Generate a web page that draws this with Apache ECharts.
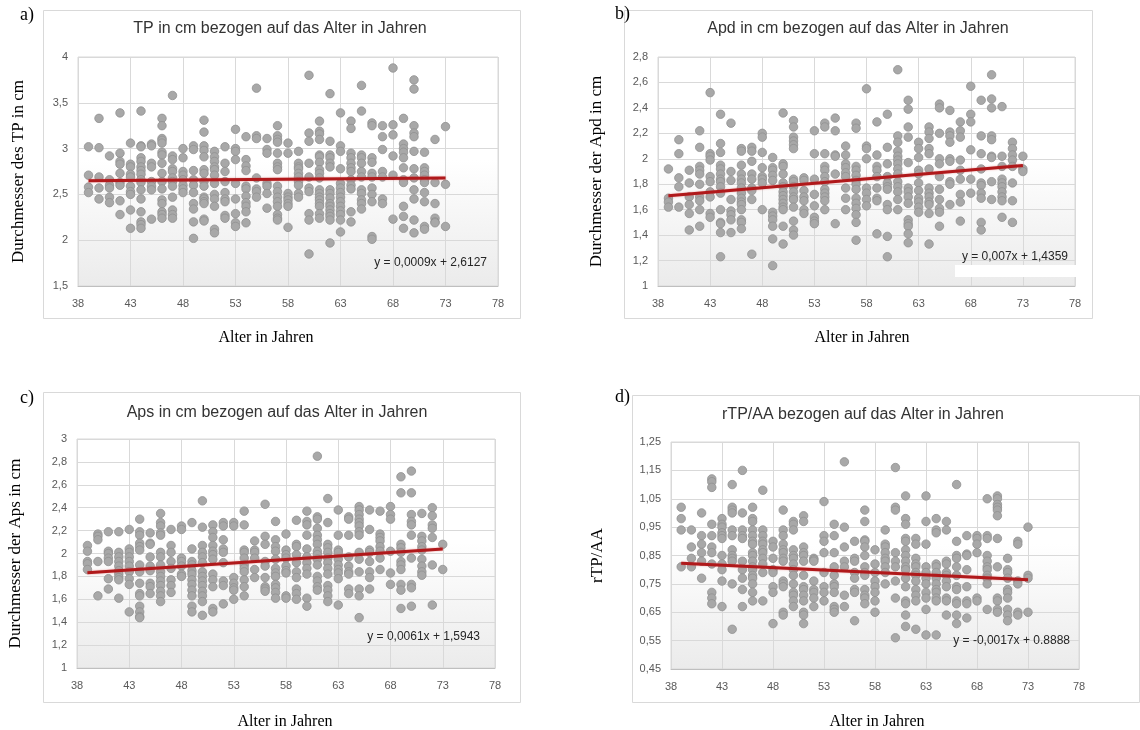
<!DOCTYPE html>
<html>
<head>
<meta charset="utf-8">
<script src="https://cdn.jsdelivr.net/npm/echarts@6/dist/echarts.min.js"></script>
<style>
  html, body { margin: 0; padding: 0; background: #fff; }
  #main { width: 1140px; height: 730px; }
</style>
</head>
<body>
<div id="main"></div>
<script>
// Alter (x), eine Spalte pro Jahr
var ages = [39,40,41,42,43,44,45,46,47,48,49,50,51,52,53,54,55,56,57,58,59,60,61,62,63,64,65,66,67,68,69,70,71,72,73];

// a) TP in cm
var tpValues = [
  [3.02,2.71,2.58,2.52],
  [3.33,3.01,2.69,2.57,2.45],
  [2.92,2.66,2.60,2.57,2.47,2.41],
  [3.39,2.95,2.86,2.83,2.73,2.63,2.60,2.43,2.28],
  [3.06,2.83,2.80,2.72,2.69,2.59,2.53,2.50,2.33,2.13],
  [3.41,3.03,3.02,2.90,2.86,2.80,2.76,2.72,2.66,2.63,2.55,2.45,2.31,2.20,2.17,2.13],
  [3.05,3.03,2.84,2.80,2.64,2.59,2.55,2.23],
  [3.33,3.25,3.11,3.09,3.06,2.96,2.93,2.84,2.73,2.64,2.56,2.44,2.40,2.31,2.28,2.24],
  [3.58,2.92,2.88,2.78,2.75,2.68,2.64,2.59,2.47,2.33,2.28,2.24],
  [3.00,2.90,2.75,2.71,2.66,2.60,2.56,2.52],
  [3.03,2.99,2.76,2.66,2.60,2.52,2.40,2.34,2.20,2.02],
  [3.31,3.18,3.03,2.98,2.91,2.77,2.73,2.64,2.59,2.47,2.45,2.42,2.40,2.23,2.21],
  [2.97,2.91,2.86,2.80,2.77,2.71,2.62,2.50,2.45,2.37,2.12,2.08],
  [3.02,2.84,2.75,2.64,2.52,2.45,2.42,2.27,2.24],
  [3.21,3.00,2.97,2.88,2.62,2.45,2.29,2.19,2.15],
  [3.13,2.88,2.81,2.76,2.59,2.56,2.48,2.41,2.37,2.31,2.19],
  [3.66,3.14,3.11,2.68,2.56,2.53,2.47],
  [3.11,2.99,2.95,2.62,2.59,2.51,2.35],
  [3.25,3.14,3.10,3.07,2.95,2.84,2.80,2.77,2.59,2.53,2.47,2.42,2.37,2.28,2.24,2.22],
  [3.06,2.95,2.51,2.47,2.44,2.40,2.37,2.14],
  [2.97,2.84,2.80,2.78,2.73,2.69,2.64,2.60,2.51,2.47],
  [3.80,3.17,3.08,2.84,2.69,2.57,2.53,2.29,2.22,1.85],
  [3.30,3.19,3.16,3.10,2.93,2.91,2.85,2.77,2.73,2.68,2.55,2.51,2.47,2.44,2.40,2.37,2.29,2.24],
  [3.60,3.08,2.93,2.90,2.84,2.80,2.55,2.51,2.46,2.40,2.37,2.33,2.29,2.26,2.22,1.97],
  [3.39,3.03,2.97,2.78,2.62,2.57,2.52,2.47,2.42,2.37,2.32,2.28,2.22,2.09],
  [3.30,3.22,2.95,2.90,2.84,2.79,2.75,2.66,2.60,2.56,2.31,2.20],
  [3.69,3.41,2.93,2.90,2.84,2.75,2.69,2.55,2.51,2.44,2.40,2.34],
  [3.28,3.25,2.90,2.85,2.73,2.69,2.57,2.50,2.42,2.04,2.01],
  [3.25,3.13,2.99,2.75,2.69,2.45,2.40],
  [3.88,3.26,3.15,2.92,2.71,2.23],
  [3.33,3.05,3.00,2.96,2.90,2.79,2.66,2.63,2.37,2.26,2.13],
  [3.75,3.65,3.25,3.17,3.13,2.97,2.78,2.68,2.55,2.45,2.22,2.08],
  [2.96,2.79,2.75,2.71,2.66,2.63,2.52,2.42,2.15,2.12],
  [3.10,2.63,2.40,2.24,2.20,2.19],
  [3.24,2.61,2.15]
];

// b) Apd in cm
var apdValues = [
  [1.92,1.69,1.66,1.62],
  [2.15,2.04,1.85,1.78,1.62],
  [1.91,1.81,1.70,1.64,1.57,1.44],
  [2.22,2.09,1.94,1.91,1.88,1.80,1.70,1.67,1.60,1.47],
  [2.52,2.04,2.02,1.99,1.86,1.82,1.74,1.70,1.57,1.54],
  [2.35,2.12,2.05,1.95,1.92,1.88,1.84,1.82,1.78,1.73,1.60,1.50,1.49,1.42,1.23],
  [2.28,1.90,1.83,1.68,1.59,1.56,1.52,1.42],
  [2.08,2.06,1.95,1.88,1.84,1.81,1.77,1.73,1.69,1.66,1.64,1.60,1.52,1.50,1.45],
  [2.09,2.06,1.98,1.88,1.84,1.77,1.75,1.68,1.25],
  [2.20,2.17,2.05,1.93,1.86,1.84,1.81,1.60],
  [2.01,1.93,1.91,1.87,1.83,1.58,1.55,1.52,1.47,1.37,1.16],
  [2.36,1.96,1.94,1.88,1.81,1.78,1.74,1.71,1.68,1.65,1.62,1.60,1.47,1.33],
  [2.30,2.25,2.17,2.14,2.11,2.08,1.84,1.82,1.78,1.74,1.70,1.68,1.62,1.51,1.44,1.40],
  [1.85,1.83,1.75,1.70,1.67,1.60,1.57],
  [2.22,2.04,1.84,1.72,1.63,1.54,1.51,1.49],
  [2.28,2.25,2.04,1.94,1.91,1.86,1.82,1.76,1.73,1.70,1.67,1.60],
  [2.32,2.22,2.03,2.02,1.88,1.49],
  [2.10,2.03,1.96,1.93,1.89,1.86,1.77,1.69,1.60],
  [2.28,2.24,1.94,1.91,1.87,1.83,1.80,1.76,1.69,1.65,1.61,1.56,1.50,1.36],
  [2.55,2.10,2.08,2.00,1.77,1.73,1.68,1.63],
  [2.29,2.03,1.94,1.91,1.86,1.77,1.69,1.67,1.41],
  [2.35,2.09,1.96,1.86,1.81,1.78,1.76,1.64,1.60,1.39,1.23],
  [2.70,2.18,2.13,2.06,2.02,1.99,1.96,1.92,1.88,1.82,1.78,1.74,1.68,1.60],
  [2.46,2.39,2.25,2.17,1.97,1.77,1.74,1.70,1.65,1.52,1.49,1.47,1.41,1.34],
  [2.13,2.08,2.01,1.91,1.88,1.81,1.75,1.69,1.66,1.62,1.58],
  [2.25,2.21,2.16,2.08,2.04,1.92,1.77,1.73,1.70,1.66,1.64,1.57,1.33],
  [2.43,2.40,2.20,2.00,1.96,1.86,1.76,1.68,1.61,1.58,1.47],
  [2.38,2.21,2.18,2.13,2.00,1.98,1.82,1.80,1.64],
  [2.29,2.22,2.17,1.99,1.91,1.84,1.72,1.66,1.51],
  [2.57,2.35,2.29,2.07,1.84,1.73],
  [2.46,2.18,2.04,1.92,1.81,1.79,1.73,1.69,1.50,1.44],
  [2.66,2.47,2.40,2.18,2.15,2.02,2.01,1.82,1.68],
  [2.41,2.02,1.94,1.84,1.81,1.78,1.74,1.70,1.67,1.54],
  [2.13,2.08,2.03,1.99,1.94,1.81,1.67,1.50],
  [2.02,1.92,1.90]
];

// c) Aps in cm
var apsValues = [
  [2.07,2.02,1.93,1.91,1.86],
  [2.17,2.15,2.12,1.93,1.63],
  [2.19,2.02,2.00,1.96,1.93,1.78,1.69],
  [2.19,2.01,1.97,1.93,1.89,1.85,1.82,1.79,1.77,1.61],
  [2.21,2.04,2.01,1.97,1.93,1.89,1.84,1.78,1.73,1.49],
  [2.30,2.19,2.16,2.09,2.06,2.03,1.90,1.84,1.74,1.65,1.63,1.54,1.49,1.45,1.44],
  [2.18,2.09,2.08,1.97,1.89,1.85,1.74,1.71,1.65],
  [2.35,2.27,2.24,2.18,2.16,2.01,1.97,1.90,1.84,1.80,1.76,1.72,1.67,1.63,1.58],
  [2.21,2.07,2.01,1.93,1.87,1.77,1.72,1.66],
  [2.24,2.21,1.96,1.93,1.89,1.82,1.80],
  [2.27,2.04,1.93,1.90,1.85,1.82,1.77,1.73,1.68,1.63,1.54,1.49],
  [2.46,2.23,2.07,2.01,1.97,1.92,1.84,1.80,1.76,1.72,1.67,1.63,1.58,1.46],
  [2.25,2.19,2.14,2.07,2.02,1.99,1.95,1.82,1.77,1.71,1.52,1.49],
  [2.27,2.24,2.12,2.04,2.01,1.92,1.76,1.72,1.56],
  [2.27,2.24,1.79,1.74,1.70,1.68,1.60],
  [2.37,2.25,2.03,2.01,1.96,1.90,1.87,1.84,1.77,1.71,1.63],
  [2.11,2.03,2.01,1.96,1.86,1.79],
  [2.43,2.15,2.08,1.93,1.89,1.79,1.71,1.69,1.67],
  [2.28,2.12,2.06,2.02,1.95,1.87,1.83,1.80,1.73,1.70,1.66,1.61],
  [2.17,2.03,1.99,1.96,1.89,1.85,1.83,1.63,1.61],
  [2.29,2.08,2.06,1.99,1.92,1.84,1.79,1.69,1.65,1.60],
  [2.37,2.28,2.25,2.16,2.04,1.97,1.92,1.87,1.82,1.61,1.54],
  [2.85,2.32,2.30,2.22,2.16,2.12,2.08,2.02,1.99,1.95,1.90,1.80,1.76,1.71,1.68],
  [2.48,2.27,2.08,2.05,2.01,1.96,1.92,1.87,1.82,1.72,1.68,1.63,1.58],
  [2.38,2.16,2.03,2.01,1.95,1.90,1.86,1.83,1.78,1.55],
  [2.32,2.30,2.16,1.97,1.89,1.84,1.82,1.69,1.65],
  [2.41,2.38,2.34,2.30,2.27,2.24,2.19,2.16,2.01,1.95,1.84,1.69,1.63,1.44],
  [2.38,2.21,2.03,2.01,1.93,1.84,1.79,1.69],
  [2.37,2.17,2.14,2.11,2.06,2.02,1.96,1.86],
  [2.41,2.34,2.30,2.02,1.83,1.73],
  [2.67,2.53,2.08,2.05,2.01,1.93,1.90,1.86,1.73,1.68,1.52],
  [2.72,2.53,2.34,2.28,2.25,2.16,1.96,1.73,1.70,1.54],
  [2.35,2.15,2.11,2.06,2.03,1.95,1.89,1.84,1.81],
  [2.40,2.33,2.25,2.22,2.14,1.90,1.55],
  [2.08,1.86]
];

// d) rTP/AA
var rtpValues = [
  [1.02,0.98,0.94,0.81],
  [0.94,0.88,0.84,0.81],
  [1.00,0.92,0.89,0.86,0.83,0.77],
  [1.12,1.11,1.09,0.96,0.92,0.88,0.86,0.82,0.72,0.70,0.68],
  [0.98,0.96,0.95,0.93,0.92,0.91,0.85,0.82,0.80,0.76,0.67],
  [1.10,1.02,1.01,1.00,0.94,0.92,0.87,0.85,0.84,0.83,0.75,0.59],
  [1.15,1.00,0.94,0.92,0.91,0.83,0.80,0.77,0.73,0.67],
  [1.02,0.98,0.97,0.94,0.92,0.90,0.89,0.86,0.85,0.83,0.81,0.80,0.78,0.77,0.75,0.72,0.69],
  [1.08,0.94,0.92,0.90,0.89,0.87,0.86,0.84,0.82,0.79,0.69],
  [0.90,0.88,0.84,0.80,0.79,0.74,0.72,0.61],
  [1.01,0.94,0.92,0.89,0.87,0.86,0.84,0.83,0.76,0.75,0.74,0.65,0.64],
  [0.97,0.96,0.94,0.87,0.85,0.84,0.82,0.80,0.78,0.75,0.72,0.71,0.69,0.67],
  [0.99,0.97,0.88,0.86,0.85,0.83,0.78,0.74,0.73,0.71,0.69,0.65,0.64,0.61],
  [0.84,0.835,0.83,0.76,0.73,0.72,0.70,0.67],
  [1.04,0.92,0.90,0.86,0.79,0.74,0.72,0.69],
  [0.96,0.92,0.86,0.81,0.78,0.75,0.74,0.72,0.67,0.66,0.65],
  [1.18,0.95,0.88,0.83,0.81,0.71,0.67],
  [0.90,0.84,0.83,0.79,0.77,0.73,0.72,0.62],
  [1.01,0.97,0.905,0.90,0.88,0.85,0.81,0.79,0.78,0.73,0.71,0.70,0.68],
  [0.87,0.82,0.79,0.76,0.74,0.72,0.69,0.65],
  [0.94,0.89,0.88,0.86,0.84,0.83,0.81,0.79,0.75],
  [1.16,1.02,1.01,0.86,0.83,0.81,0.76,0.70,0.56],
  [1.06,0.98,0.96,0.91,0.90,0.87,0.85,0.83,0.81,0.80,0.77,0.74,0.69,0.68,0.64,0.60],
  [0.91,0.89,0.84,0.82,0.81,0.79,0.78,0.76,0.73,0.71,0.69,0.59],
  [1.06,0.97,0.89,0.81,0.79,0.77,0.75,0.72,0.70,0.66,0.57],
  [0.98,0.94,0.93,0.82,0.81,0.79,0.77,0.75,0.73,0.72,0.70,0.69,0.57],
  [0.97,0.94,0.83,0.82,0.79,0.78,0.76,0.74,0.70,0.69,0.64],
  [1.10,0.90,0.85,0.84,0.81,0.78,0.74,0.73,0.69,0.68,0.64,0.61],
  [0.92,0.855,0.85,0.80,0.74,0.69,0.68,0.63],
  [0.92,0.91,0.89,0.86,0.70,0.69],
  [1.05,0.92,0.91,0.85,0.83,0.81,0.80,0.78,0.77,0.75,0.66],
  [1.06,1.05,1.03,1.02,1.01,0.99,0.91,0.81,0.70,0.69,0.66,0.65],
  [0.84,0.80,0.79,0.77,0.73,0.72,0.70,0.66,0.64,0.62],
  [0.90,0.89,0.76,0.75,0.65,0.64],
  [0.95,0.78,0.77,0.65]
];

// Trendlinien: [Steigung, Achsenabschnitt], von 39 bis 73
var trendCoefs = [[0.0009, 2.6127], [0.007, 1.4359], [0.0061, 1.5943], [-0.0017, 0.8888]];
var trendRange = [39, 73];

var chartTitles = [
  'TP in cm bezogen auf das Alter in Jahren',
  'Apd in cm bezogen auf das Alter in Jahren',
  'Aps in cm bezogen auf das Alter in Jahren',
  'rTP/AA bezogen auf das Alter in Jahren'
];
var yNames = ['Durchmesser des TP in cm', 'Durchmesser der Apd in cm', 'Durchmesser der Aps in cm', 'rTP/AA'];
var equations = ['y = 0,0009x + 2,6127', 'y = 0,007x + 1,4359', 'y = 0,0061x + 1,5943', 'y = -0,0017x + 0.8888'];
var panelLetters = ['a)', 'b)', 'c)', 'd)'];

// y-Achsen: [min, max, interval]
var yRanges = [[1.5, 4, 0.5], [1, 2.8, 0.2], [1, 3, 0.2], [0.45, 1.25, 0.1]];
var xRange = [38, 78, 5];

var allValues = [tpValues, apdValues, apsValues, rtpValues];

var myChart = echarts.init(document.getElementById('main'));

// Achsen werden auf min=0 verschoben, damit die Ticks bei 38, 43, ... liegen
var X0 = xRange[0];

var gridBoxes = [
  {left: 78, top: 57, width: 420, height: 229},
  {left: 658, top: 57, width: 417, height: 229},
  {left: 77, top: 439, width: 418, height: 229},
  {left: 671, top: 442, width: 408, height: 227}
];
var frames = [
  [43, 10, 477, 308],
  [624, 10, 468, 308],
  [43, 392, 477, 310],
  [632, 395, 507, 307]
];
var titlePos = [[280, 29], [858, 29], [277, 413], [863, 415]];
var xNamePos = [[266, 338], [862, 338], [285, 722], [877, 722]];
var letterPos = [[20, 6], [615, 5], [20, 389], [615, 388]];
var eqPos = [[487, 263], [1068, 257], [480, 637], [1070, 641]];
var yNameGap = [51, 53, 53, 65];

var grids = [], xAxes = [], yAxes = [], series = [], graphics = [];

allValues.forEach(function (vals, i) {
    var y0 = yRanges[i][0];
    var dec = i === 3 ? 2 : 1;
    var bg = new echarts.graphic.LinearGradient(0, 0, 0, 1, [
        {offset: 0, color: '#ffffff'},
        {offset: 0.45, color: '#ffffff'},
        {offset: 1, color: '#ebebeb'}
    ]);
    grids.push(Object.assign({show: true, backgroundColor: bg, borderColor: '#d9d9d9', borderWidth: 1}, gridBoxes[i]));

    xAxes.push({
        type: 'value', gridIndex: i,
        min: 0, max: xRange[1] - X0, interval: xRange[2],
        axisLine: {show: true, lineStyle: {color: '#bfbfbf'}},
        axisTick: {show: false},
        splitLine: {show: true, lineStyle: {color: '#d9d9d9'}},
        axisLabel: {
            color: '#595959', fontSize: 11, margin: 12, fontFamily: 'Liberation Sans',
            formatter: function (v) { return String(v + X0); }
        }
    });

    yAxes.push({
        type: 'value', gridIndex: i,
        min: 0, max: +(yRanges[i][1] - y0).toFixed(3), interval: yRanges[i][2],
        axisLine: {show: false},
        axisTick: {show: false},
        splitLine: {show: true, lineStyle: {color: '#d9d9d9'}},
        axisLabel: {
            color: '#595959', fontSize: 11, margin: 10, fontFamily: 'Liberation Sans',
            formatter: function (v) {
                return String(+(v + y0).toFixed(dec)).replace('.', ',');
            }
        },
        name: yNames[i], nameLocation: 'middle', nameRotate: 90, nameGap: yNameGap[i],
        nameTextStyle: {color: '#000', fontSize: 17, fontFamily: 'Liberation Serif'}
    });

    var pts = [];
    vals.forEach(function (col, k) {
        col.forEach(function (v) { pts.push([ages[k] - X0, v - y0]); });
    });
    series.push({
        type: 'scatter', xAxisIndex: i, yAxisIndex: i,
        symbolSize: 8.5,
        itemStyle: {color: '#a8a8a8', borderColor: '#909090', borderWidth: 0.8, opacity: 1},
        emphasis: {disabled: true},
        data: pts
    });

    var c = trendCoefs[i];
    series.push({
        type: 'line', xAxisIndex: i, yAxisIndex: i, z: 5,
        symbol: 'none', silent: true,
        lineStyle: {color: '#b0191b', width: 3, shadowColor: 'rgba(220,60,60,0.5)', shadowBlur: 2},
        data: trendRange.map(function (x) { return [x - X0, c[0] * x + c[1] - y0]; })
    });

    var f = frames[i];
    graphics.push({
        type: 'rect', z: -10,
        shape: {x: f[0] + 0.5, y: f[1] + 0.5, width: f[2], height: f[3]},
        style: {fill: 'none', stroke: '#d9d9d9', lineWidth: 1}
    });
    graphics.push({
        type: 'text', x: titlePos[i][0], y: titlePos[i][1],
        style: {text: chartTitles[i], fill: '#333333', font: '16px "Liberation Sans"',
                textAlign: 'center', textVerticalAlign: 'middle'}
    });
    graphics.push({
        type: 'text', x: xNamePos[i][0], y: xNamePos[i][1],
        style: {text: 'Alter in Jahren', fill: '#000', font: '16px "Liberation Serif"',
                textAlign: 'center', textVerticalAlign: 'middle'}
    });
    graphics.push({
        type: 'text', x: letterPos[i][0], y: letterPos[i][1],
        style: {text: panelLetters[i], fill: '#000', font: '18px "Liberation Serif"'}
    });
    graphics.push({
        type: 'text', x: eqPos[i][0], y: eqPos[i][1], z: 20,
        style: {text: equations[i], fill: '#262626', font: '12px "Liberation Sans"',
                textAlign: 'right', textVerticalAlign: 'middle'}
    });
});

// weisser Fleck unter der Gleichung in b)
graphics.push({
    type: 'rect', z: 10,
    shape: {x: 955, y: 265, width: 123, height: 12},
    style: {fill: '#ffffff'}
});

var option = {
    backgroundColor: '#ffffff',
    animation: false,
    grid: grids,
    xAxis: xAxes,
    yAxis: yAxes,
    series: series,
    graphic: graphics
};

myChart.setOption(option);
window.addEventListener('resize', function () {
    myChart.resize();
});
</script>
</body>
</html>
